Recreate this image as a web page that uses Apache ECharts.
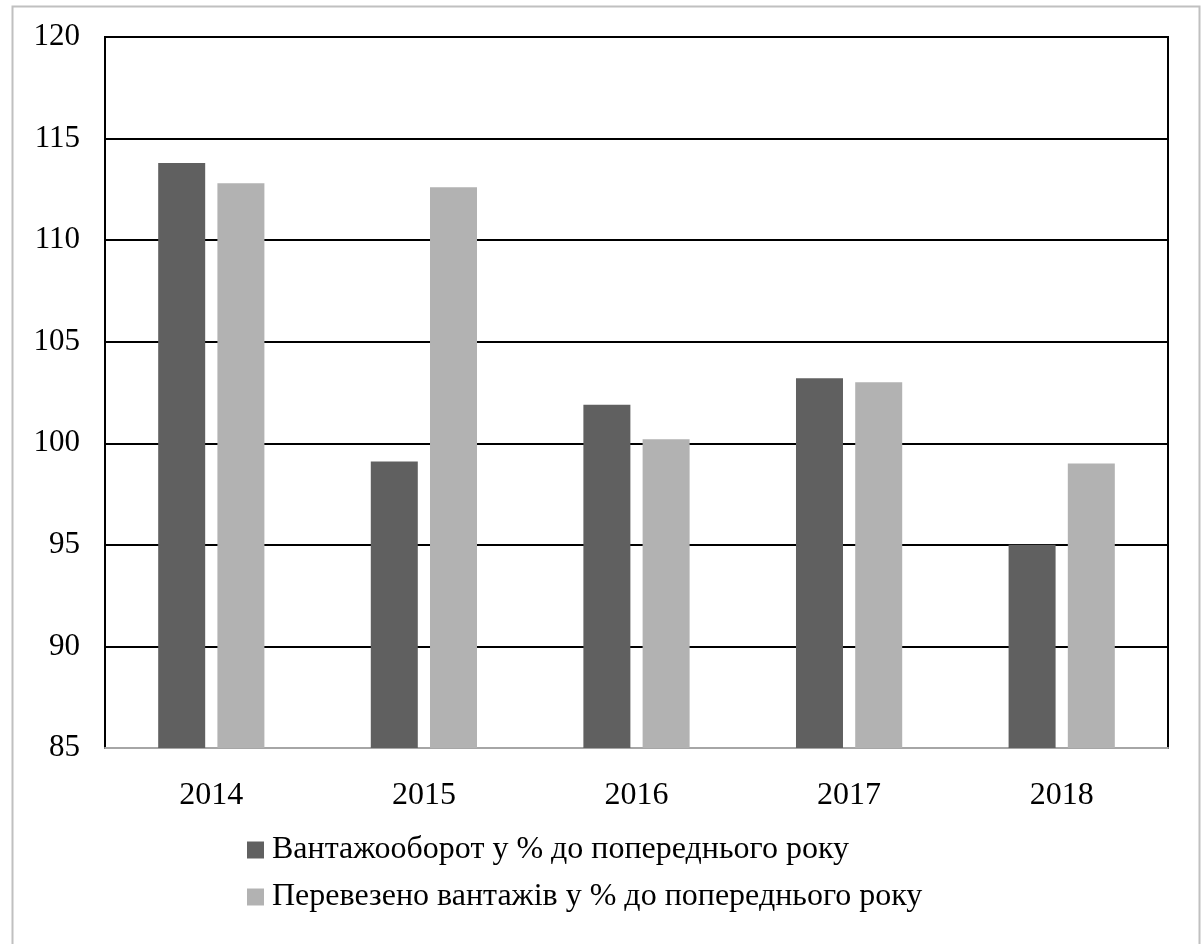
<!DOCTYPE html>
<html><head><meta charset="utf-8">
<script src="https://cdn.jsdelivr.net/npm/echarts@6/dist/echarts.min.js"></script>
<style>html,body{margin:0;padding:0;background:#fff}#c{width:1202px;height:944px}</style>
</head><body><div id="c"></div>
<script>
const categories = ['2014', '2015', '2016', '2017', '2018'];
const seriesNames = ['Вантажооборот у % до попереднього року', 'Перевезено вантажів у % до попереднього року'];
const cargoTurnover = [113.8, 99.1, 101.9, 103.2, 95.0];
const cargoTransported = [112.8, 112.6, 100.2, 103.0, 99.0];
const yTicks = { min: 85, max: 120, interval: 5 };

const font = '"Liberation Serif", "Times New Roman", serif';
const chart = echarts.init(document.getElementById('c'), null, { renderer: 'canvas' });
chart.setOption({
  animation: false,
  backgroundColor: '#fff',
  graphic: [{
    type: 'rect', left: 10, top: 4, shape: { width: 1187, height: 950 },
    style: { fill: 'none', stroke: '#c0c0c0', lineWidth: 2 }, silent: true, z: -1
  }],
  grid: { left: 105, right: 34, top: 37, bottom: 196, containLabel: false,
    show: true, borderColor: '#000', borderWidth: 2 },
  legend: {
    orient: 'vertical', left: 247, top: 834, padding: 0, itemWidth: 17, itemHeight: 17, itemGap: 15,
    icon: 'rect',
    textStyle: { fontFamily: font, fontSize: 32, lineHeight: 32, color: '#000', padding: [0, 0, 0, 3] },
    data: seriesNames
  },
  xAxis: {
    type: 'category', data: categories,
    axisLine: { show: true, lineStyle: { color: '#a6a6a6', width: 2 } },
    axisTick: { show: false },
    axisLabel: { fontFamily: font, fontSize: 32, color: '#000', margin: 32 }
  },
  yAxis: {
    type: 'value', min: yTicks.min, max: yTicks.max, interval: yTicks.interval,
    axisLine: { show: true, lineStyle: { color: '#000', width: 2 } },
    axisTick: { show: false },
    splitLine: { lineStyle: { color: '#000', width: 2 } },
    axisLabel: { fontFamily: font, fontSize: 31, color: '#000', margin: 25 }
  },
  series: [
    { name: seriesNames[0], type: 'bar', data: cargoTurnover, barWidth: 47, barGap: '26%',
      itemStyle: { color: '#606060' } },
    { name: seriesNames[1], type: 'bar', data: cargoTransported, barWidth: 47,
      itemStyle: { color: '#b2b2b2' } }
  ]
});
</script></body></html>
